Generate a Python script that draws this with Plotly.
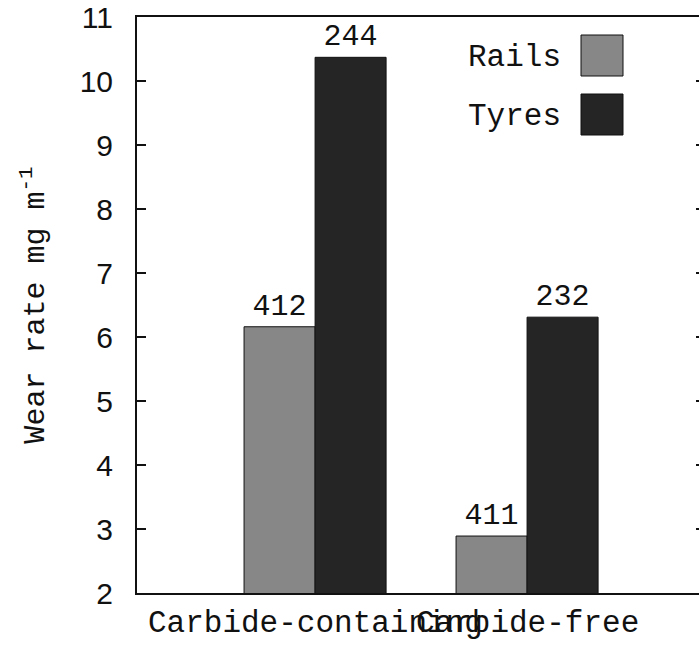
import plotly.graph_objects as go

categories = ["Carbide-containing", "Carbide-free"]
rails = [6.16, 2.89]
tyres = [10.37, 6.31]
rails_labels = ["412", "411"]
tyres_labels = ["244", "232"]
y_ticks = [2, 3, 4, 5, 6, 7, 8, 9, 10, 11]

MONO = "Liberation Mono, Courier New, monospace"
SANS = "Liberation Sans, Arial, sans-serif"
RAILS_COL = "#878787"
TYRES_COL = "#252525"

x_idx = list(range(len(categories)))

fig = go.Figure()
fig.add_trace(go.Bar(
    x=x_idx, y=rails, name="Rails", base=0,
    marker=dict(color=RAILS_COL, line=dict(color="#111", width=1)),
    text=rails_labels, textposition="outside", cliponaxis=False,
    textfont=dict(family=MONO, size=30, color="#111"),
    showlegend=False,
))
fig.add_trace(go.Bar(
    x=x_idx, y=tyres, name="Tyres", base=0,
    marker=dict(color=TYRES_COL, line=dict(color="#111", width=1)),
    text=tyres_labels, textposition="outside", cliponaxis=False,
    textfont=dict(family=MONO, size=30, color="#111"),
    showlegend=False,
))
# invisible trace for right-side mirrored ticks
fig.add_trace(go.Scatter(x=[None], y=[None], yaxis="y2", showlegend=False, hoverinfo="skip"))

# manual legend
L, R, T, B = 137, 699, 17, 593
W, H = R - L, B - T
def px(x):
    return (x - L) / W
def py(y):
    return (B - y) / H

legend_items = [("Rails", RAILS_COL, 35, 76), ("Tyres", TYRES_COL, 94, 135)]
for name, col, y0, y1 in legend_items:
    fig.add_shape(type="rect", xref="paper", yref="paper",
                  x0=px(581), x1=px(623), y0=py(y1), y1=py(y0),
                  fillcolor=col, line=dict(color="#111", width=1))
    fig.add_annotation(xref="paper", yref="paper", x=px(563), y=py((y0 + y1) / 2 + 2),
                       xanchor="right", yanchor="middle", text=name, showarrow=False,
                       font=dict(family=MONO, size=31, color="#111"))

# category labels drawn as annotations on the data x positions (they overlap in the original)
for i, cat in zip(x_idx, categories):
    fig.add_annotation(x=i, xref="x", y=py(623), yref="paper", text=cat, showarrow=False,
                       xanchor="center", yanchor="middle",
                       font=dict(family=MONO, size=31, color="#111"))

fig.update_layout(
    width=699, height=647,
    margin=dict(l=L, r=0, t=T, b=647 - B, autoexpand=False),
    paper_bgcolor="white", plot_bgcolor="white",
    barmode="group", bargap=0.33, bargroupgap=0,
    showlegend=False,
    xaxis=dict(
        range=[-0.84, 1.811], tickmode="array", tickvals=x_idx, showticklabels=False,
        automargin=False,
        showgrid=False, zeroline=False, showline=True, linecolor="#111", linewidth=2,
        mirror=True, ticks="",
    ),
    yaxis=dict(
        range=[2, 11], tickmode="array", tickvals=y_ticks, automargin=False,
        showgrid=False, zeroline=False, showline=True, linecolor="#111", linewidth=2,
        ticks="inside", ticklen=9, tickwidth=2, tickcolor="#111",
        tickfont=dict(family=SANS, size=30, color="#111"), ticklabelstandoff=16,
        title=dict(text="Wear rate mg m<sup>-1</sup>", font=dict(family=MONO, size=30, color="#111"),
                   standoff=26),
    ),
    yaxis2=dict(
        range=[2, 11], tickmode="array", tickvals=y_ticks, overlaying="y",
        side="right", anchor="free", position=1.0, automargin=False,
        showgrid=False, zeroline=False, showline=False, showticklabels=False,
        ticks="inside", ticklen=3, tickwidth=2, tickcolor="#111",
    ),
)

fig.write_html("out.html")
